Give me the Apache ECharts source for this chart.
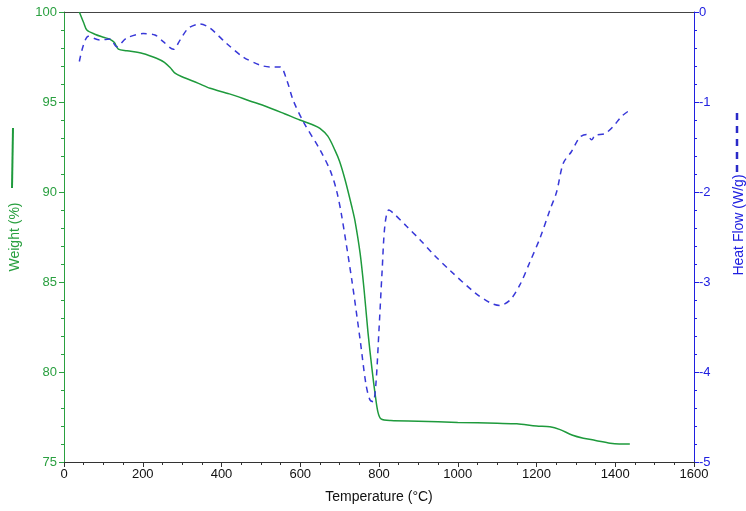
<!DOCTYPE html>
<html>
<head>
<meta charset="utf-8">
<script src="https://cdn.jsdelivr.net/npm/echarts@6/dist/echarts.min.js"></script>
<style>
  html, body { margin: 0; padding: 0; background: #fff; }
  #chart { width: 746px; height: 511px; }
</style>
</head>
<body>
<div id="chart"></div>
<script>
// weight curve (left axis, %)
const weightTemp = [39, 50, 58, 80, 100, 117, 128, 138, 160, 200, 235, 255, 270, 282, 300, 340, 371, 420, 472, 515, 560, 599, 630, 650, 670, 688, 700, 714, 731, 739, 752, 762, 772, 782, 790, 797, 805, 830, 900, 1000, 1100, 1150, 1200, 1234, 1260, 1290, 1319, 1350, 1387, 1410, 1437]
const weightPct = [100, 99.4, 99.0, 98.75, 98.6, 98.48, 98.3, 97.94, 97.85, 97.7, 97.43, 97.2, 96.9, 96.6, 96.4, 96.05, 95.76, 95.45, 95.06, 94.74, 94.35, 94.0, 93.75, 93.54, 93.1, 92.33, 91.7, 90.67, 89.18, 88.4, 86.6, 84.6, 82.2, 80.2, 78.8, 77.8, 77.4, 77.3, 77.27, 77.2, 77.15, 77.12, 77.0, 76.96, 76.8, 76.5, 76.32, 76.2, 76.04, 76.0, 76.0]

// heat flow curve (right axis, W/g)
const heatTemp = [39, 62, 91, 117, 134, 159, 201, 231, 252, 278, 295, 316, 345, 371, 413, 455, 498, 523, 549, 566, 582, 608, 650, 676, 692, 705, 731, 752, 767, 777, 785, 792, 800, 808, 815, 825, 840, 870, 904, 940, 980, 1044, 1082, 1107, 1133, 1158, 1183, 1210, 1234, 1251, 1268, 1289, 1310, 1327, 1340, 1349, 1374, 1395, 1416, 1437]
const heatFlow = [-0.55, -0.27, -0.31, -0.30, -0.385, -0.29, -0.24, -0.255, -0.33, -0.415, -0.31, -0.18, -0.133, -0.18, -0.35, -0.50, -0.59, -0.61, -0.61, -0.76, -0.98, -1.22, -1.53, -1.76, -1.98, -2.26, -2.98, -3.64, -4.14, -4.31, -4.33, -4.14, -3.53, -2.87, -2.37, -2.2, -2.25, -2.38, -2.53, -2.7, -2.87, -3.12, -3.23, -3.26, -3.2, -3.03, -2.78, -2.5, -2.2, -2.0, -1.68, -1.55, -1.39, -1.36, -1.42, -1.37, -1.35, -1.27, -1.16, -1.09]

const greenLine = '#1e9a3c'
const greenAxis = '#2aa040'
const blueLine = '#3838d8'
const blueAxis = '#2020e0'
const font = 'Liberation Sans, Arial, sans-serif'

let chart = echarts.init(document.getElementById('chart'))

let option = {
  backgroundColor: '#fff',
  animation: false,
  grid: {
    left: 64, right: 52, top: 12, bottom: 49,
    containLabel: false,
    outerBoundsMode: 'none'
  },
  xAxis: [
    {
      type: 'value',
      min: 0, max: 1600, interval: 200,
      name: 'Temperature (°C)',
      nameLocation: 'middle',
      nameGap: 28,
      nameTextStyle: { color: '#111', fontSize: 14, fontFamily: font },
      axisLine: { onZero: false, lineStyle: { color: '#333' } },
      axisTick: { length: 5, lineStyle: { color: '#333' } },
      minorTick: { show: true, splitNumber: 4, length: 3, lineStyle: { color: '#333' } },
      splitLine: { show: false },
      axisLabel: { color: '#111', fontSize: 13, fontFamily: font, margin: 6, formatter: v => String(v) }
    },
    {
      // plain frame line along the top
      type: 'value',
      position: 'top',
      min: 0, max: 1600,
      axisLine: { show: true, onZero: false, lineStyle: { color: '#444' } },
      axisTick: { show: false },
      axisLabel: { show: false },
      splitLine: { show: false }
    }
  ],
  yAxis: [
    {
      type: 'value',
      min: 75, max: 100, interval: 5,
      position: 'left',
      name: 'Weight (%)',
      nameLocation: 'middle',
      nameRotate: 90,
      nameGap: 42,
      nameTextStyle: { color: greenAxis, fontSize: 14, fontFamily: font },
      axisLine: { show: true, onZero: false, lineStyle: { color: greenAxis } },
      axisTick: { show: true, length: 5, lineStyle: { color: greenAxis } },
      minorTick: { show: true, splitNumber: 5, length: 3, lineStyle: { color: greenAxis } },
      splitLine: { show: false },
      axisLabel: { color: greenAxis, fontSize: 13, fontFamily: font, margin: 7 }
    },
    {
      type: 'value',
      min: -5, max: 0, interval: 1,
      position: 'right',
      name: 'Heat Flow (W/g)',
      nameLocation: 'middle',
      nameRotate: 90,
      nameGap: 38,
      nameTextStyle: { color: blueAxis, fontSize: 14, fontFamily: font, padding: [0, 0, 0, 24] },
      axisLine: { show: true, onZero: false, lineStyle: { color: blueAxis } },
      axisTick: { show: true, length: 5, lineStyle: { color: blueAxis } },
      minorTick: { show: true, splitNumber: 5, length: 3, lineStyle: { color: blueAxis } },
      splitLine: { show: false },
      axisLabel: { color: blueAxis, fontSize: 13, fontFamily: font, margin: 5 }
    }
  ],
  series: [
    {
      name: 'Weight',
      type: 'line',
      yAxisIndex: 0,
      smooth: 0.3,
      showSymbol: false,
      data: weightTemp.map((t, i) => [t, weightPct[i]]),
      lineStyle: { color: greenLine, width: 1.5 }
    },
    {
      name: 'Heat Flow',
      type: 'line',
      yAxisIndex: 1,
      smooth: 0.3,
      showSymbol: false,
      data: heatTemp.map((t, i) => [t, heatFlow[i]]),
      lineStyle: { color: blueLine, width: 1.5, type: [6, 5] }
    }
  ],
  // little line keys beside the axis names
  graphic: [
    {
      type: 'line',
      shape: { x1: 13, y1: 128, x2: 12, y2: 188 },
      style: { stroke: greenLine, lineWidth: 2 }
    },
    {
      type: 'line',
      shape: { x1: 737, y1: 113, x2: 737, y2: 173 },
      style: { stroke: '#2a2ac8', lineWidth: 2.5, lineDash: [7, 6] }
    }
  ]
}

chart.setOption(option)
</script>
</body>
</html>
